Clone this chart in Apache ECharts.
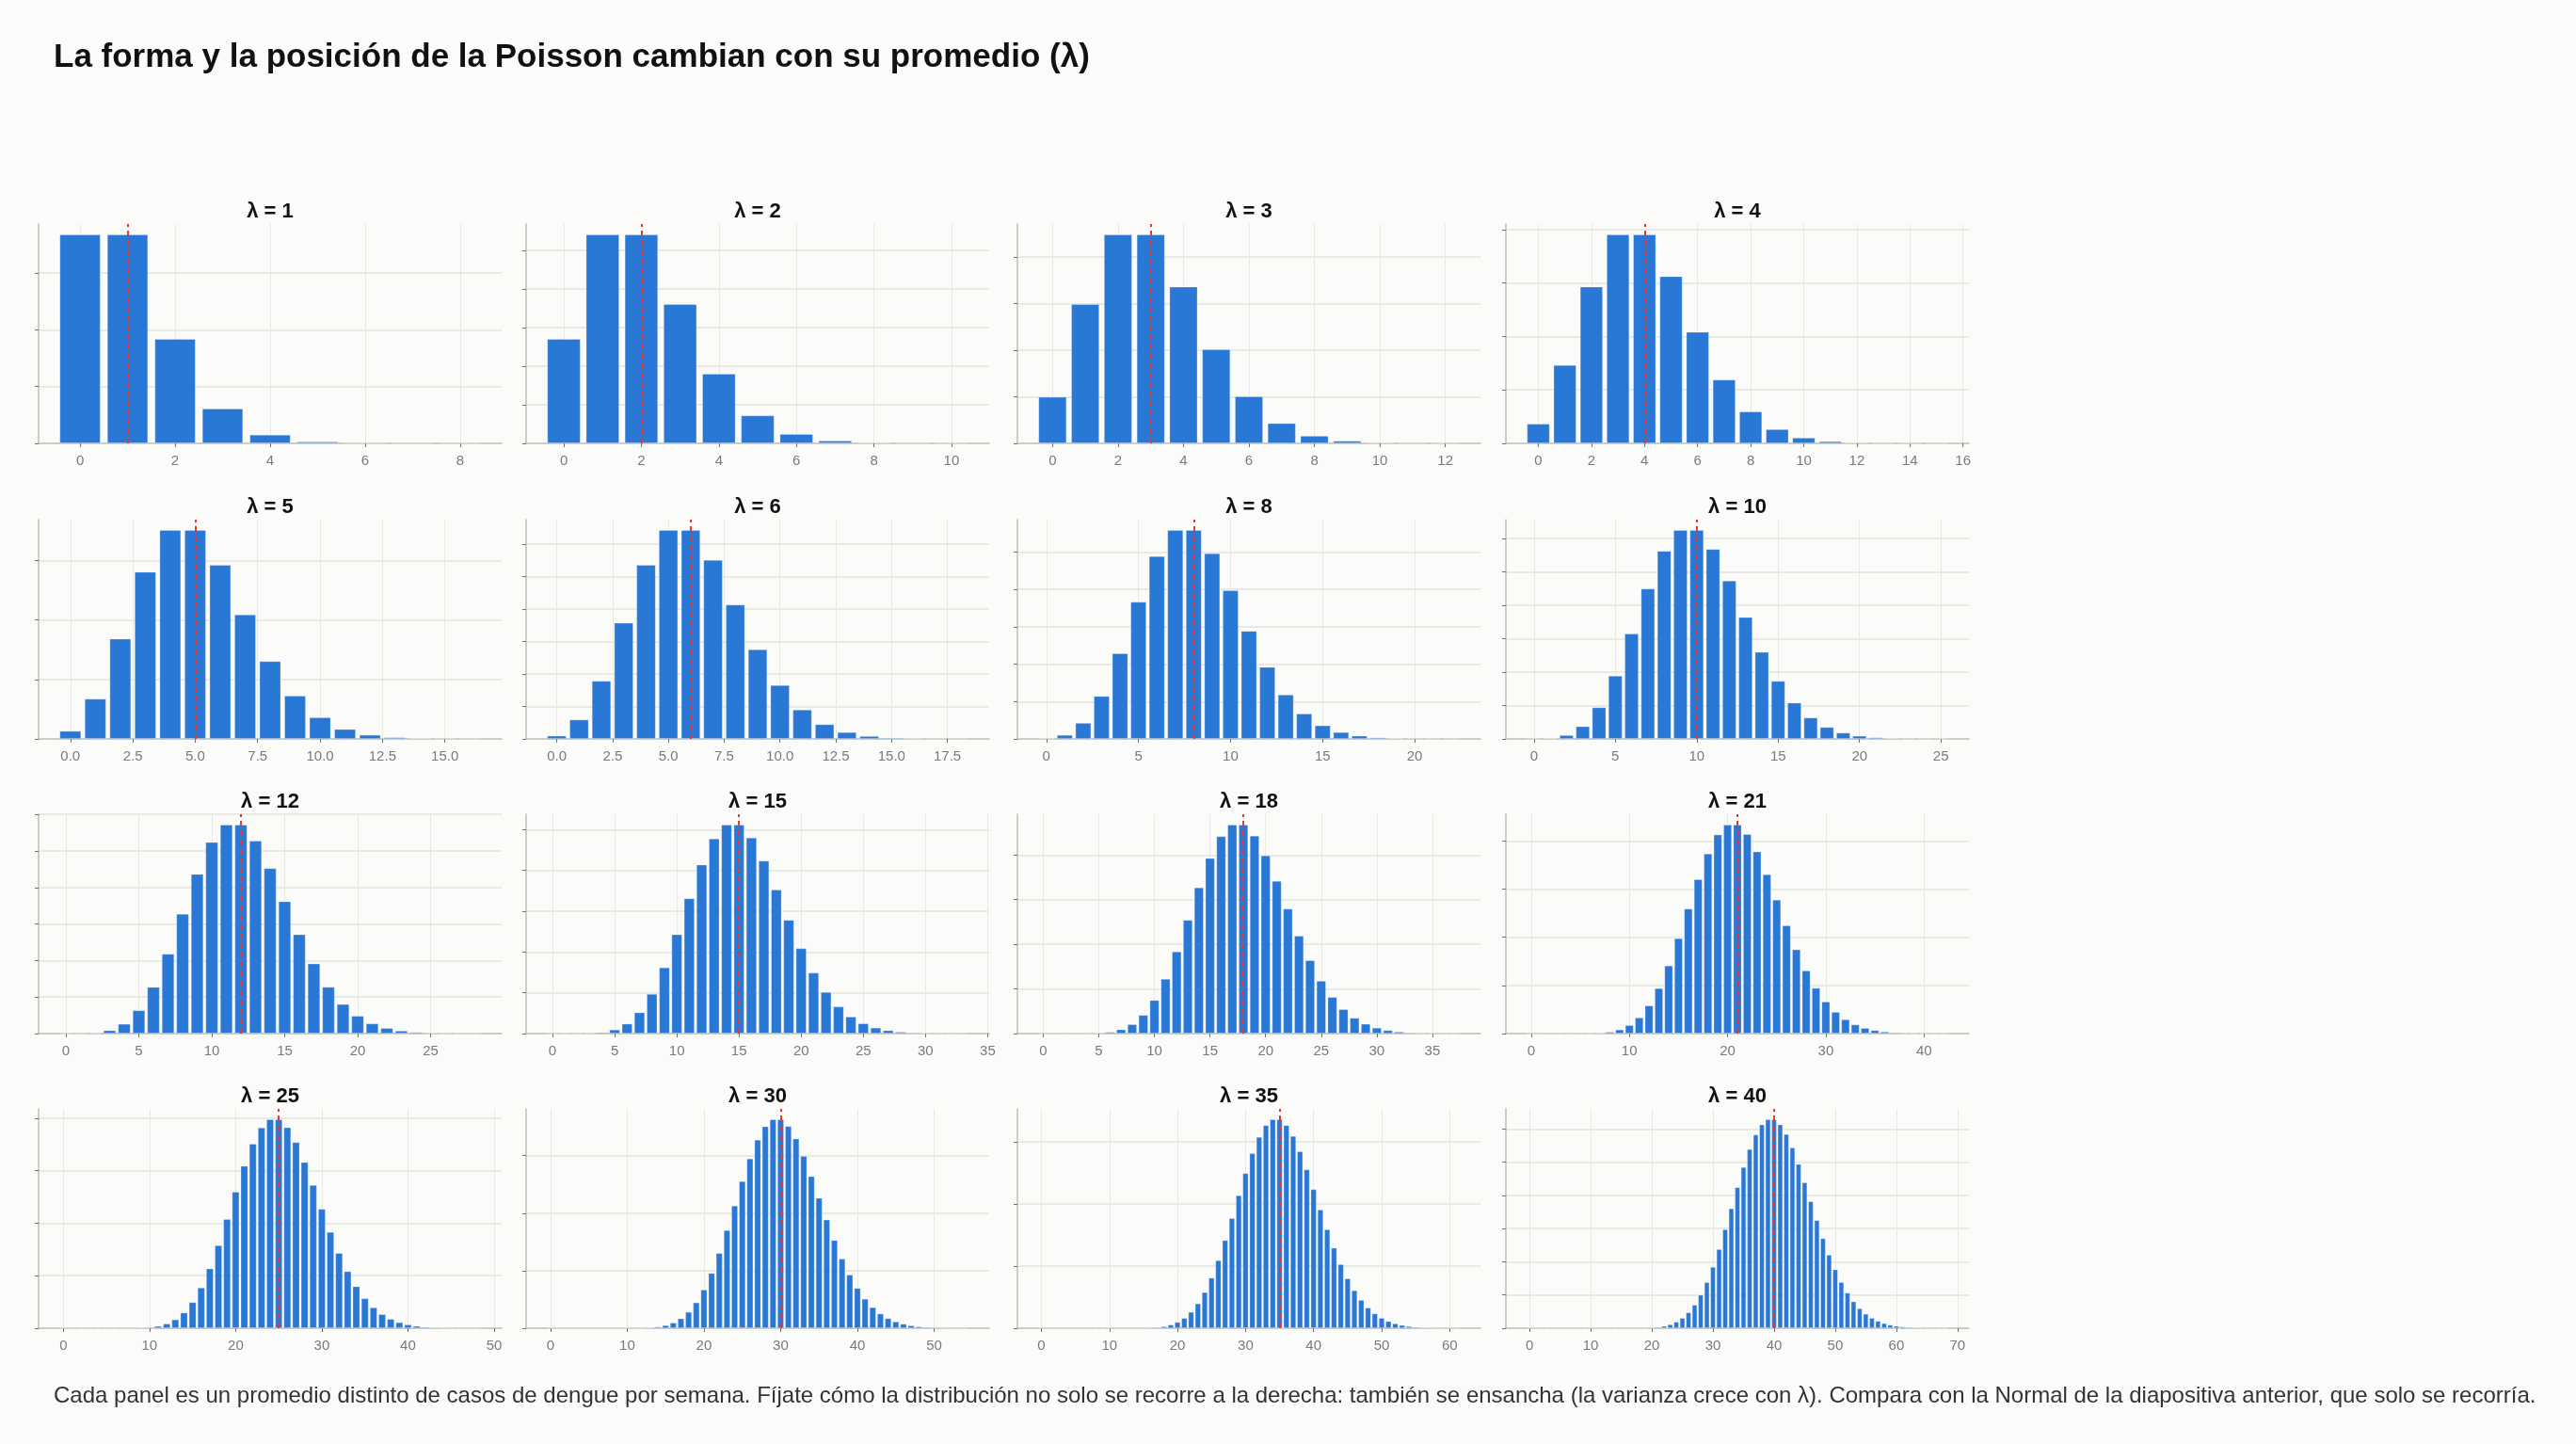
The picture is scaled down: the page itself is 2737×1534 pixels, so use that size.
<!DOCTYPE html>
<html><head><meta charset="utf-8">
<script src="https://cdn.jsdelivr.net/npm/echarts@6/dist/echarts.min.js"></script>
<style>html,body{margin:0;padding:0;background:#fbfbf9;}#c{width:2737px;height:1534px;}</style>
</head><body><div id="c"></div>
<script>
const mainTitle = 'La forma y la posición de la Poisson cambian con su promedio (λ)';
const caption = 'Cada panel es un promedio distinto de casos de dengue por semana. Fíjate cómo la distribución no solo se recorre a la derecha: también se ensancha (la varianza crece con λ). Compara con la Normal de la diapositiva anterior, que solo se recorría.';
const lambdas = [1, 2, 3, 4, 5, 6, 8, 10, 12, 15, 18, 21, 25, 30, 35, 40];
const xTickSteps = [2, 2, 2, 2, 2.5, 2.5, 5, 5, 5, 5, 5, 10, 10, 10, 10, 10];
const yTickSteps = [0.1, 0.05, 0.05, 0.05, 0.05, 0.025, 0.025, 0.02, 0.02, 0.02, 0.02, 0.02, 0.02, 0.02, 0.02, 0.01];

const pmf_1 = [0.36788, 0.36788, 0.18394, 0.06131, 0.01533, 0.003066, 0.000511, 0.000073, 0.0000091];
const pmf_2 = [0.13534, 0.27067, 0.27067, 0.18045, 0.09022, 0.03609, 0.01203, 0.003437, 0.000859, 0.000191, 0.0000382];
const pmf_3 = [0.04979, 0.14936, 0.22404, 0.22404, 0.16803, 0.10082, 0.05041, 0.0216, 0.008102, 0.002701, 0.00081, 0.000221, 0.0000552];
const pmf_4 = [0.01832, 0.07326, 0.14653, 0.19537, 0.19537, 0.15629, 0.1042, 0.05954, 0.02977, 0.01323, 0.005292, 0.001925, 0.000642, 0.000197, 0.0000564, 0.000015];
const pmf_5 = [0.006738, 0.03369, 0.08422, 0.14037, 0.17547, 0.17547, 0.14622, 0.10444, 0.06528, 0.03627, 0.01813, 0.008242, 0.003434, 0.001321, 0.000472, 0.000157, 0.0000491];
const pmf_6 = [0.002479, 0.014873, 0.044618, 0.089235, 0.133853, 0.160623, 0.160623, 0.137677, 0.103258, 0.068838, 0.041303, 0.022529, 0.011264, 0.005199, 0.002228, 0.000891, 0.000334, 0.000118, 0.0000394];
const pmf_8 = [0.000335, 0.002684, 0.010735, 0.028626, 0.057252, 0.091604, 0.122138, 0.139587, 0.139587, 0.124077, 0.099262, 0.07219, 0.048127, 0.029616, 0.016924, 0.009026, 0.004513, 0.002124, 0.000944, 0.000397, 0.000159, 0.0000606, 0.000022];
const pmf_10 = [0.0000454, 0.000454, 0.00227, 0.007567, 0.018917, 0.037833, 0.063055, 0.090079, 0.112599, 0.12511, 0.12511, 0.113736, 0.09478, 0.072908, 0.052077, 0.034718, 0.021699, 0.012764, 0.007091, 0.003732, 0.001866, 0.000889, 0.000404, 0.000176, 0.0000731, 0.0000293];
const pmf_12 = [0.0000061, 0.0000737, 0.000442, 0.00177, 0.005309, 0.012741, 0.025481, 0.043682, 0.065523, 0.087364, 0.104837, 0.114368, 0.114368, 0.10557, 0.090489, 0.072391, 0.054293, 0.038325, 0.02555, 0.016137, 0.009682, 0.005533, 0.003018, 0.001575, 0.000787, 0.000378, 0.000174, 0.0000775, 0.0000332];
const pmf_15 = [0.0000003, 0.0000046, 0.0000344, 0.000172, 0.000645, 0.001936, 0.00484, 0.01037, 0.019444, 0.032407, 0.048611, 0.066287, 0.082859, 0.095607, 0.102436, 0.102436, 0.096034, 0.084736, 0.070613, 0.055747, 0.04181, 0.029865, 0.020362, 0.01328, 0.0083, 0.00498, 0.002873, 0.001596, 0.000855, 0.000442, 0.000221, 0.000107, 0.0000502, 0.0000228];
const pmf_18 = [0.000000015, 0.00000027, 0.0000025, 0.0000148, 0.0000666, 0.00024, 0.00072, 0.00185, 0.004163, 0.008325, 0.014985, 0.024521, 0.036781, 0.050928, 0.065479, 0.078575, 0.088397, 0.093597, 0.093597, 0.088671, 0.079804, 0.068403, 0.055966, 0.043799, 0.032849, 0.023652, 0.016374, 0.010916, 0.007018, 0.004356, 0.002613, 0.001517, 0.000854, 0.000466, 0.000246, 0.000127, 0.0000634, 0.0000308];
const pmf_21 = [0.0000000008, 0.000000016, 0.00000017, 0.0000012, 0.0000061, 0.0000258, 0.0000903, 0.000271, 0.000711, 0.00166, 0.003485, 0.006654, 0.011644, 0.01881, 0.028214, 0.0395, 0.051844, 0.064043, 0.074717, 0.082582, 0.086711, 0.086711, 0.08277, 0.075573, 0.066126, 0.055546, 0.044864, 0.034894, 0.026171, 0.018951, 0.013266, 0.008987, 0.005898, 0.003753, 0.002318, 0.001391, 0.000811, 0.00046, 0.000254, 0.000137, 0.0000719, 0.0000368, 0.0000184];
const pmf_25 = [1.4e-11, 3.5e-10, 4.3e-9, 3.6e-8, 2.3e-7, 0.0000011, 0.0000047, 0.0000168, 0.0000525, 0.000146, 0.000365, 0.00083, 0.001728, 0.003324, 0.005935, 0.009891, 0.015455, 0.022728, 0.031566, 0.041534, 0.051918, 0.061807, 0.070235, 0.076342, 0.079523, 0.079523, 0.076464, 0.0708, 0.063214, 0.054495, 0.045413, 0.036623, 0.028612, 0.021676, 0.015938, 0.011384, 0.007906, 0.005342, 0.003514, 0.002253, 0.001408, 0.000859, 0.000511, 0.000297, 0.000169, 0.0000938, 0.000051, 0.0000271, 0.0000141];
const pmf_30 = [9.4e-14, 2.8e-12, 4.3e-11, 4.3e-10, 3.2e-9, 1.9e-8, 9.5e-8, 4.1e-7, 1.53e-6, 5.1e-6, 1.52e-5, 4.15e-5, 0.000104, 0.00024, 0.000513, 0.001027, 0.001925, 0.003397, 0.005662, 0.008941, 0.013411, 0.019159, 0.026126, 0.034077, 0.042596, 0.051115, 0.058979, 0.065532, 0.070213, 0.072634, 0.072634, 0.070291, 0.065898, 0.059907, 0.052859, 0.045308, 0.037757, 0.030614, 0.024169, 0.018592, 0.013944, 0.010203, 0.007288, 0.005085, 0.003467, 0.002311, 0.001507, 0.000962, 0.000601, 0.000368, 0.000221, 0.00013, 0.0000749, 0.0000424, 0.0000236];
const pmf_35 = [6.3e-16, 2.2e-14, 3.9e-13, 4.6e-12, 4e-11, 2.8e-10, 1.6e-9, 8.1e-9, 3.6e-8, 1.39e-7, 4.85e-7, 1.54e-6, 4.5e-6, 1.2e-5, 3.0e-5, 6.99e-5, 0.000153, 0.000315, 0.000612, 0.001127, 0.001972, 0.003287, 0.005229, 0.007957, 0.011604, 0.016246, 0.02187, 0.02835, 0.035438, 0.04277, 0.049898, 0.056336, 0.061617, 0.065351, 0.067273, 0.067273, 0.065404, 0.061869, 0.056985, 0.051141, 0.044748, 0.0382, 0.031833, 0.025911, 0.020611, 0.016031, 0.012198, 0.009084, 0.006624, 0.004731, 0.003312, 0.002273, 0.00153, 0.00101, 0.000655, 0.000417, 0.000261, 0.00016, 0.0000966, 0.0000573, 0.0000334, 0.0000192];
const pmf_40 = [4.2e-18, 1.7e-16, 3.4e-15, 4.5e-14, 4.5e-13, 3.6e-12, 2.4e-11, 1.4e-10, 6.9e-10, 3.1e-9, 1.23e-8, 4.5e-8, 1.49e-7, 4.6e-7, 1.31e-6, 3.5e-6, 8.7e-6, 2.05e-5, 4.56e-5, 9.6e-5, 0.000192, 0.000366, 0.000665, 0.001156, 0.001927, 0.003084, 0.004744, 0.007028, 0.01004, 0.013849, 0.018465, 0.023826, 0.029783, 0.0361, 0.042471, 0.048538, 0.053931, 0.058304, 0.061373, 0.062947, 0.062947, 0.061412, 0.058488, 0.054407, 0.049461, 0.043965, 0.03823, 0.032536, 0.027113, 0.022133, 0.017706, 0.013887, 0.010682, 0.008062, 0.005972, 0.004343, 0.003102, 0.002177, 0.001501, 0.001018, 0.000679, 0.000445, 0.000287, 0.000182, 0.000114, 0.0000701, 0.0000425, 0.0000254, 0.0000149];

const pmfs = [pmf_1, pmf_2, pmf_3, pmf_4, pmf_5, pmf_6, pmf_8, pmf_10, pmf_12, pmf_15, pmf_18, pmf_21, pmf_25, pmf_30, pmf_35, pmf_40];

const FONT = '"Liberation Sans", Arial, Helvetica, sans-serif';
const gridLefts = [41, 559, 1081, 1600];
const gridTops = [238, 552, 865, 1178];
const gridW = 492, gridH = 233;
const BAR_W = 0.86;

const grids = [], xAxes = [], yAxes = [], series = [];
const graphics = [
  {type: 'text', x: 57, y: 61, style: {text: mainTitle, font: 'bold 35px ' + FONT, fill: '#111', align: 'left', verticalAlign: 'middle', textAlign: 'left', textVerticalAlign: 'middle'}},
  {type: 'text', x: 57, y: 1483, style: {text: caption, font: '24px ' + FONT, fill: '#333', align: 'left', verticalAlign: 'middle', textAlign: 'left', textVerticalAlign: 'middle'}}
];

lambdas.forEach((lam, i) => {
  const r = Math.floor(i / 4), c = i % 4;
  const data = pmfs[i];
  const N = data.length - 1;
  const lo = -BAR_W / 2, hi = N + BAR_W / 2;
  const pad = 0.05 * (hi - lo);
  const xmin = lo - pad, xmax = hi + pad;
  const xs = xTickSteps[i];
  const xticks = [];
  for (let v = 0; v <= xmax + 1e-9; v += xs) xticks.push(+v.toFixed(3));
  const ymax = Math.max(...data) * 1.05;
  const ys = yTickSteps[i];
  const yticks = [];
  for (let k = 0; k * ys <= ymax + 1e-12; k++) yticks.push(+(k * ys).toFixed(4));

  grids.push({left: gridLefts[c], top: gridTops[r], width: gridW, height: gridH, containLabel: false});
  xAxes.push({
    type: 'value', gridIndex: i, min: xmin, max: xmax,
    axisLine: {show: true, onZero: false, lineStyle: {color: '#c2c1b9', width: 1.6}},
    axisTick: {show: true, length: 4, customValues: xticks, lineStyle: {color: '#707070', width: 1}},
    axisLabel: {show: true, customValues: xticks, margin: 11, color: '#7a7a7a', fontSize: 15, fontFamily: FONT,
      formatter: v => (xs % 1 !== 0 ? Number(v).toFixed(1) : String(Math.round(v)))},
    splitLine: {show: true, lineStyle: {color: '#e9e9e4', width: 1}}
  });
  yAxes.push({
    type: 'value', gridIndex: i, min: 0, max: ymax,
    axisLine: {show: true, onZero: false, lineStyle: {color: '#c2c1b9', width: 1.6}},
    axisTick: {show: true, length: 4, customValues: yticks, lineStyle: {color: '#707070', width: 1}},
    axisLabel: {show: false},
    splitLine: {show: true, lineStyle: {color: '#e4e4de', width: 1.5}}
  });
  series.push({
    type: 'bar', xAxisIndex: i, yAxisIndex: i,
    data: data.map((v, k) => [k, v]),
    barWidth: (BAR_W * 100) + '%',
    itemStyle: {color: '#2a78d6', borderColor: 'rgba(255,255,255,0.35)', borderWidth: 0.8},
    animation: false, silent: true,
    markLine: {
      silent: true, symbol: ['none', 'none'], animation: false,
      label: {show: false},
      lineStyle: {color: '#e0393c', type: [6, 4], width: 2},
      data: [{xAxis: lam}]
    }
  });
  graphics.push({type: 'text', x: gridLefts[c] + gridW / 2, y: gridTops[r] - 13,
    style: {text: 'λ = ' + lam, font: 'bold 22px ' + FONT, fill: '#111', align: 'center', verticalAlign: 'middle', textAlign: 'center', textVerticalAlign: 'middle'}});
});

const chart = echarts.init(document.getElementById('c'), null, {renderer: 'canvas'});
chart.setOption({
  backgroundColor: '#fbfbf9',
  animation: false,
  grid: grids, xAxis: xAxes, yAxis: yAxes, series: series,
  graphic: graphics
});
</script>
</body></html>
